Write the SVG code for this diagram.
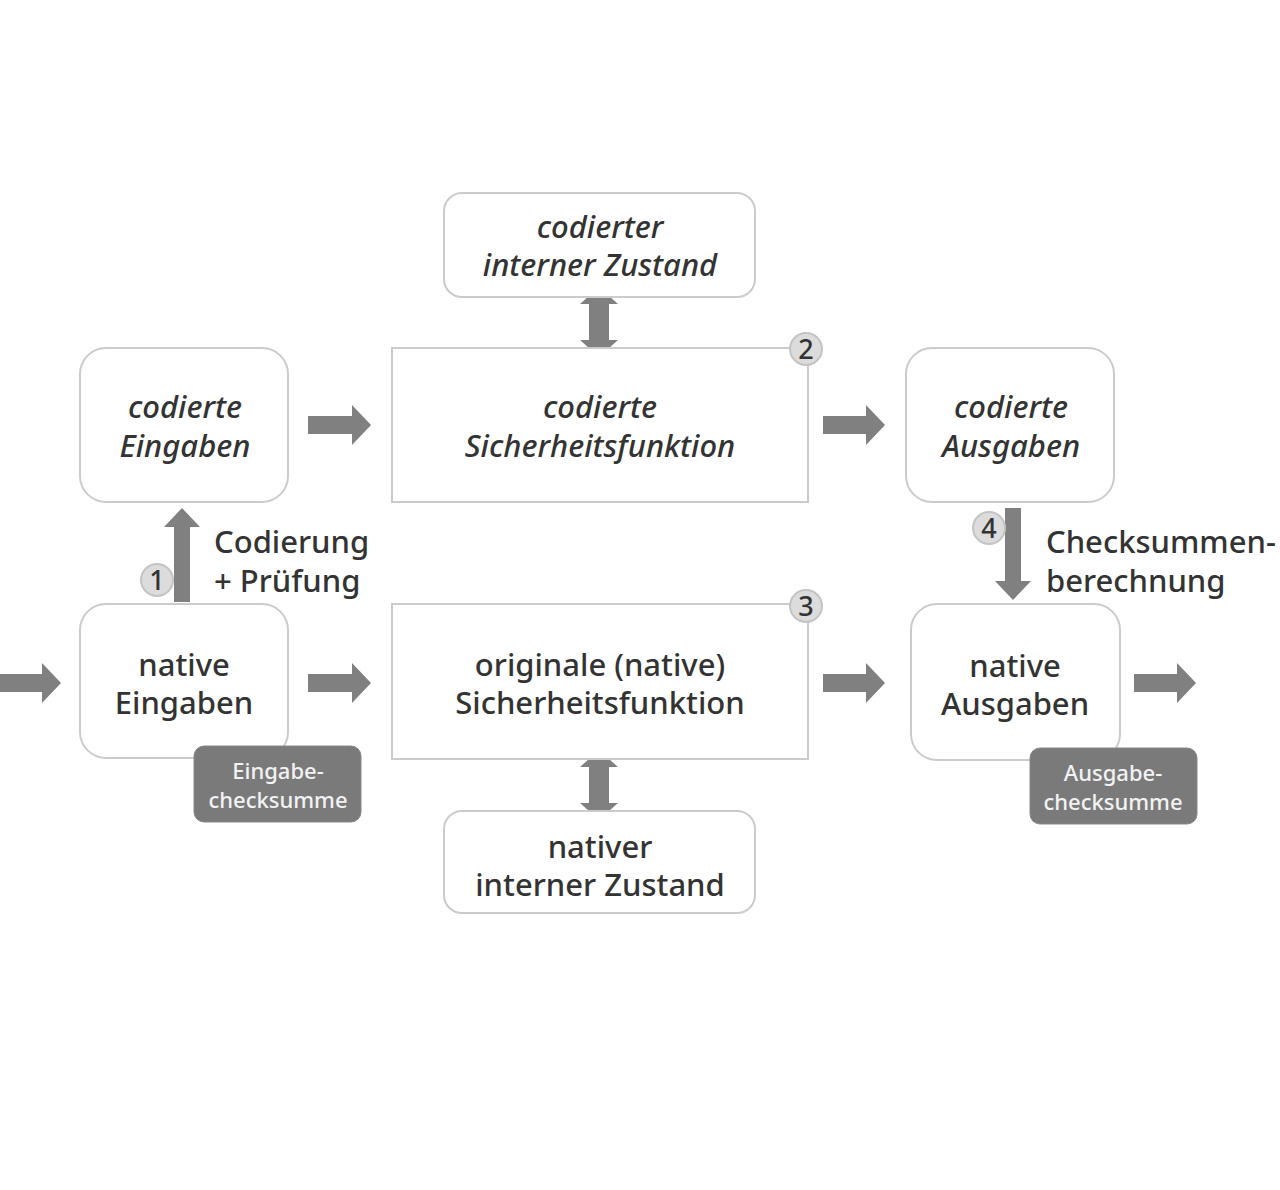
<svg xmlns="http://www.w3.org/2000/svg" width="1280" height="1190" viewBox="0 0 1280 1190">
<style>
.box{fill:#fff;stroke:#cbcbcb;stroke-width:2}
.t{font-family:"Noto Sans","Open Sans",sans-serif;font-size:31px;font-weight:500;fill:#333;text-anchor:middle}
.i{font-style:italic}
.lbl{font-family:"Noto Sans","Open Sans",sans-serif;font-size:31px;font-weight:500;fill:#333}
.cs{fill:#7a7a7a;stroke:#888;stroke-width:1}
.cst{font-family:"Noto Sans","Open Sans",sans-serif;font-size:22px;font-weight:500;fill:#f2f2f2;text-anchor:middle}
.arr{fill:#808080}
.badge{fill:#dcdcdc;stroke:#c4c4c4;stroke-width:2}
.bt{font-family:"Noto Sans","Open Sans",sans-serif;font-size:27px;font-weight:500;fill:#333;text-anchor:middle}
</style>
<rect width="1280" height="1190" fill="#fff"/>
<g id="connectors">
<path class="arr" d="M308,416 H352 V405 L371,425 L352,445 V434 H308 Z"/>
<path class="arr" d="M823,416 H866 V405 L885,425 L866,445 V434 H823 Z"/>
<path class="arr" d="M0,674 H42 V663 L61,683 L42,703 V692 H0 Z"/>
<path class="arr" d="M308,674 H352 V663 L371,683 L352,703 V692 H308 Z"/>
<path class="arr" d="M823,674 H866 V663 L885,683 L866,703 V692 H823 Z"/>
<path class="arr" d="M1134,674 H1177 V663 L1196,683 L1177,703 V692 H1134 Z"/>
<path class="arr" d="M174,602 V527 H164 L182,508 L200,527 H190 V602 Z"/>
<path class="arr" d="M1005,508 V581 H995 L1013,600 L1031,581 H1021 V508 Z"/>
<path class="arr" d="M589,340 V304 H580 L599,287 L618,304 H609 V340 H618 L599,357 L580,340 Z"/>
<path class="arr" d="M589,803 V767 H580 L599,750 L618,767 H609 V803 H618 L599,820 L580,803 Z"/>
</g>
<g id="codierter-zustand">
<rect class="box" x="444" y="193" width="311" height="104" rx="18"/>
<text class="t i" x="600" y="238">codierter</text>
<text class="t i" x="600" y="276">interner Zustand</text>
</g>
<g id="codierte-eingaben">
<rect class="box" x="80" y="348" width="208" height="154" rx="26"/>
<text class="t i" x="185" y="418">codierte</text>
<text class="t i" x="185" y="457">Eingaben</text>
</g>
<g id="codierte-funktion">
<rect class="box" x="392" y="348" width="416" height="154"/>
<text class="t i" x="600" y="418">codierte</text>
<text class="t i" x="600" y="457">Sicherheitsfunktion</text>
<circle class="badge" cx="806" cy="349" r="16"/>
<text class="bt" x="806" y="359">2</text>
</g>
<g id="codierte-ausgaben">
<rect class="box" x="906" y="348" width="208" height="154" rx="26"/>
<text class="t i" x="1011" y="418">codierte</text>
<text class="t i" x="1011" y="457">Ausgaben</text>
</g>
<g id="label-1">
<circle class="badge" cx="157" cy="580" r="16"/>
<text class="bt" x="157" y="590">1</text>
<text class="lbl" x="214" y="553">Codierung</text>
<text class="lbl" x="214" y="592">+ Prüfung</text>
</g>
<g id="label-4">
<circle class="badge" cx="989" cy="528" r="16"/>
<text class="bt" x="989" y="538">4</text>
<text class="lbl" x="1046" y="553">Checksummen-</text>
<text class="lbl" x="1046" y="592">berechnung</text>
</g>
<g id="native-eingaben">
<rect class="box" x="80" y="604" width="208" height="154" rx="26"/>
<text class="t" x="184" y="676">native</text>
<text class="t" x="184" y="714">Eingaben</text>
</g>
<g id="eingabe-checksumme">
<rect class="cs" x="194" y="746" width="167" height="76" rx="10"/>
<text class="cst" x="278" y="779">Eingabe-</text>
<text class="cst" x="278" y="808">checksumme</text>
</g>
<g id="originale-funktion">
<rect class="box" x="392" y="604" width="416" height="155"/>
<text class="t" x="600" y="676">originale (native)</text>
<text class="t" x="600" y="714">Sicherheitsfunktion</text>
<circle class="badge" cx="806" cy="606" r="16"/>
<text class="bt" x="806" y="616">3</text>
</g>
<g id="native-ausgaben">
<rect class="box" x="911" y="604" width="209" height="156" rx="26"/>
<text class="t" x="1015" y="677">native</text>
<text class="t" x="1015" y="715">Ausgaben</text>
</g>
<g id="ausgabe-checksumme">
<rect class="cs" x="1030" y="748" width="167" height="76" rx="10"/>
<text class="cst" x="1113" y="781">Ausgabe-</text>
<text class="cst" x="1113" y="810">checksumme</text>
</g>
<g id="nativer-zustand">
<rect class="box" x="444" y="811" width="311" height="102" rx="18"/>
<text class="t" x="600" y="858">nativer</text>
<text class="t" x="600" y="896">interner Zustand</text>
</g>
</svg>
